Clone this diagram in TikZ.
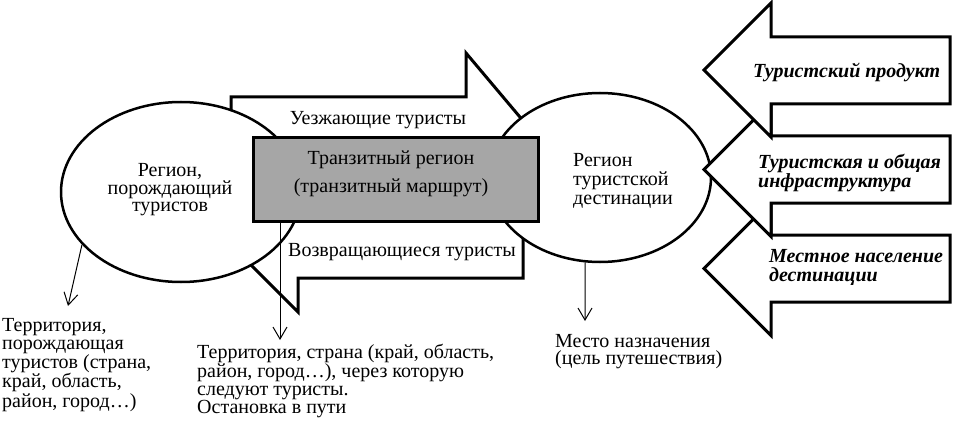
\documentclass[tikz,border=0pt]{standalone}
\usepackage{fontspec}
\setmainfont{Liberation Serif}
\usetikzlibrary{shapes.geometric,arrows.meta}
\definecolor{boxgray}{RGB}{166,166,166}
\begin{document}
\begin{tikzpicture}[x=1pt,y=-1pt,
  blockarrow/.style={draw=black, fill=white, line width=3pt, line join=miter},
  region/.style={ellipse, draw=black, fill=white, line width=2.5pt, inner sep=0pt},
  transit/.style={draw=black, fill=boxgray, line width=3pt, inner sep=0pt},
  lbl/.style={inner sep=0pt, font=\fontsize{20}{17.5}\selectfont},
  flow/.style={inner sep=0pt, font=\fontsize{20}{19}\selectfont\bfseries\itshape, align=left, anchor=west},
  pointer/.style={line width=1pt, -{Straight Barb[length=12pt,width=14pt,line width=1pt]}}
]
\fill[white] (0,0) rectangle (953,425);
\useasboundingbox (0,0) rectangle (953,425);
% transit flows
\draw[blockarrow] (231,97) -- (466,97) -- (466,53) -- (538,138.5) -- (466,224) -- (466,180) -- (231,180) -- cycle;
\draw[blockarrow] (523,278) -- (298,278) -- (298,312) -- (225,239) -- (298,166) -- (298,200) -- (523,200) -- cycle;
% regions
\node[region, minimum width=240pt, minimum height=180pt] (src) at (181,192) {};
\node[region, minimum width=222pt, minimum height=169pt] (dst) at (600,177.5) {};
% destination factors
\draw[blockarrow] (950,235) -- (771,235) -- (771,201.5) -- (704,268.5) -- (771,335.5) -- (771,302) -- (950,302) -- cycle;
\draw[blockarrow] (950,136) -- (771,136) -- (771,102.5) -- (704,169.5) -- (771,236.5) -- (771,203) -- (950,203) -- cycle;
\draw[blockarrow] (950,37) -- (771,37) -- (771,3) -- (704,70) -- (771,137) -- (771,104) -- (950,104) -- cycle;
% transit region box
\node[transit, minimum width=285pt, minimum height=83pt] (box) at (395.5,179.5) {};
% texts
\node[lbl, align=center] (srctext) at (170,190) {Регион,\\порождающий\\туристов};
\node[lbl, align=left, anchor=west, font=\fontsize{20}{19}\selectfont] (dsttext) at (573,181) {Регион\\туристской\\дестинации};
\node[lbl] (outtext) at (378,120) {Уезжающие туристы};
\node[lbl] (backtext) at (402,252) {Возвращающиеся туристы};
\node[lbl, align=center, font=\fontsize{20}{28}\selectfont] (boxtext) at (391,174) {Транзитный регион\\(транзитный маршрут)};
\node[flow] (f1) at (753,72) {Туристский продукт};
\node[flow] (f2) at (758,172.5) {Туристская и общая\\инфраструктура};
\node[flow] (f3) at (769,267.5) {Местное население\\дестинации};
% pointers
\coordinate (tipA) at (68,306);
\coordinate (tipB) at (280,340);
\coordinate (tipC) at (585,321);
\draw[pointer] (src.208) -- (tipA);
\draw[pointer] (box.south west -| tipB) -- (tipB);
\draw[pointer] (dst.260) -- (tipC);
\node[lbl, align=left, anchor=west] (ta) at (2,365) {Территория,\\порождающая\\туристов (страна,\\край, область,\\район, город…)};
\node[lbl, align=left, anchor=west] (tb) at (197,381) {Территория, страна (край, область,\\район, город…), через которую\\следуют туристы.\\Остановка в пути};
\node[lbl, align=left, anchor=west, font=\fontsize{20}{17}\selectfont] (tc) at (555,351.5) {Место назначения\\(цель путешествия)};
\end{tikzpicture}
\end{document}
